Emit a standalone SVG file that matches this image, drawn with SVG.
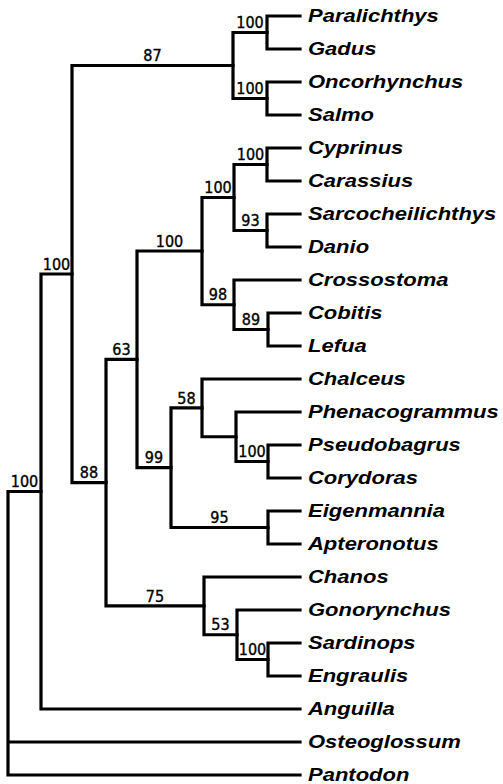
<svg xmlns="http://www.w3.org/2000/svg" width="503" height="784" viewBox="0 0 503 784">
<style>
.e{fill:none;stroke:#000;stroke-width:3.2;stroke-linejoin:miter;stroke-linecap:square}
.s{font-family:"DejaVu Sans Condensed","DejaVu Sans",sans-serif;font-size:16px;text-anchor:middle;fill:#000;stroke:#000;stroke-width:0.35}
.t{font-family:"Liberation Sans",Arial,sans-serif;font-size:18.5px;font-weight:bold;font-style:italic;fill:#000}
</style>
<rect width="503" height="784" fill="#fff"/>
<g id="connectors">
<path class="e" d="M72 274V65.5H233 M72 274V482.6H106"/>
<path class="e" d="M233 65.5V32.5H267 M233 65.5V98.5H267"/>
<path class="e" d="M267 32.5V16H300 M267 32.5V49H300"/>
<path class="e" d="M267 98.5V82H300 M267 98.5V115H300"/>
<path class="e" d="M106 482.6V359.4H137 M106 482.6V605.9H204"/>
<path class="e" d="M137 359.4V251H202 M137 359.4V467.7H171"/>
<path class="e" d="M202 251V197.5H234 M202 251V304.75H234"/>
<path class="e" d="M234 197.5V164.5H267 M234 197.5V230.5H267"/>
<path class="e" d="M267 164.5V148H300 M267 164.5V181H300"/>
<path class="e" d="M267 230.5V214H300 M267 230.5V247H300"/>
<path class="e" d="M234 304.75V280H300 M234 304.75V329.5H268"/>
<path class="e" d="M268 329.5V313H300 M268 329.5V346H300"/>
<path class="e" d="M171 467.7V407.9H202 M171 467.7V527.5H268"/>
<path class="e" d="M202 407.9V379H300 M202 407.9V436.75H236"/>
<path class="e" d="M236 436.75V412H300 M236 436.75V461.5H268"/>
<path class="e" d="M268 461.5V445H300 M268 461.5V478H300"/>
<path class="e" d="M268 527.5V511H300 M268 527.5V544H300"/>
<path class="e" d="M204 605.9V577H300 M204 605.9V634.75H237"/>
<path class="e" d="M237 634.75V610H300 M237 634.75V659.5H268"/>
<path class="e" d="M268 659.5V643H300 M268 659.5V676H300"/>
<path class="e" d="M41 491.5V274H72 M41 491.5V709H300"/>
<path class="e" d="M8 742V491.5H41 M8 742H300 M8 742V775H300"/>
</g>
<g id="supports">
<g id="nA"><text class="s" x="250" y="28">100</text></g>
<g id="nB"><text class="s" x="250" y="94">100</text></g>
<g id="nC"><text class="s" x="152.5" y="61">87</text></g>
<g id="nD1"><text class="s" x="250.5" y="160">100</text></g>
<g id="nD2"><text class="s" x="250.5" y="226">93</text></g>
<g id="nE"><text class="s" x="218" y="193">100</text></g>
<g id="nF1"><text class="s" x="251" y="325">89</text></g>
<g id="nF"><text class="s" x="218" y="300">98</text></g>
<g id="nG"><text class="s" x="169.5" y="246.5">100</text></g>
<g id="nH1"><text class="s" x="252" y="457">100</text></g>
<g id="nH"><text class="s" x="186.5" y="403.5">58</text></g>
<g id="nI"><text class="s" x="219.5" y="523">95</text></g>
<g id="nJ"><text class="s" x="154" y="463">99</text></g>
<g id="nK"><text class="s" x="121.5" y="355">63</text></g>
<g id="nL1"><text class="s" x="252.5" y="655">100</text></g>
<g id="nL2"><text class="s" x="220.5" y="630">53</text></g>
<g id="nL"><text class="s" x="155" y="601.5">75</text></g>
<g id="nM"><text class="s" x="89" y="478">88</text></g>
<g id="nN"><text class="s" x="56.5" y="269.5">100</text></g>
<g id="nO"><text class="s" x="24.5" y="487">100</text></g>
</g>
<g id="leaves" transform="scale(1.19,1)">
<g id="Paralichthys"><text class="t" x="258.8" y="22.5">Paralichthys</text></g>
<g id="Gadus"><text class="t" x="258.8" y="55.5">Gadus</text></g>
<g id="Oncorhynchus"><text class="t" x="258.8" y="88.5">Oncorhynchus</text></g>
<g id="Salmo"><text class="t" x="258.8" y="121.5">Salmo</text></g>
<g id="Cyprinus"><text class="t" x="258.8" y="154.5">Cyprinus</text></g>
<g id="Carassius"><text class="t" x="258.8" y="187.5">Carassius</text></g>
<g id="Sarcocheilichthys"><text class="t" x="258.8" y="220.5">Sarcocheilichthys</text></g>
<g id="Danio"><text class="t" x="258.8" y="253.5">Danio</text></g>
<g id="Crossostoma"><text class="t" x="258.8" y="286.5">Crossostoma</text></g>
<g id="Cobitis"><text class="t" x="258.8" y="319.5">Cobitis</text></g>
<g id="Lefua"><text class="t" x="258.8" y="352.5">Lefua</text></g>
<g id="Chalceus"><text class="t" x="258.8" y="385.5">Chalceus</text></g>
<g id="Phenacogrammus"><text class="t" x="258.8" y="418.5">Phenacogrammus</text></g>
<g id="Pseudobagrus"><text class="t" x="258.8" y="451.5">Pseudobagrus</text></g>
<g id="Corydoras"><text class="t" x="258.8" y="484.5">Corydoras</text></g>
<g id="Eigenmannia"><text class="t" x="258.8" y="517.5">Eigenmannia</text></g>
<g id="Apteronotus"><text class="t" x="258.8" y="550.5">Apteronotus</text></g>
<g id="Chanos"><text class="t" x="258.8" y="583.5">Chanos</text></g>
<g id="Gonorynchus"><text class="t" x="258.8" y="616.5">Gonorynchus</text></g>
<g id="Sardinops"><text class="t" x="258.8" y="649.5">Sardinops</text></g>
<g id="Engraulis"><text class="t" x="258.8" y="682.5">Engraulis</text></g>
<g id="Anguilla"><text class="t" x="258.8" y="715.5">Anguilla</text></g>
<g id="Osteoglossum"><text class="t" x="258.8" y="748.5">Osteoglossum</text></g>
<g id="Pantodon"><text class="t" x="258.8" y="781.5">Pantodon</text></g>
</g>
</svg>
